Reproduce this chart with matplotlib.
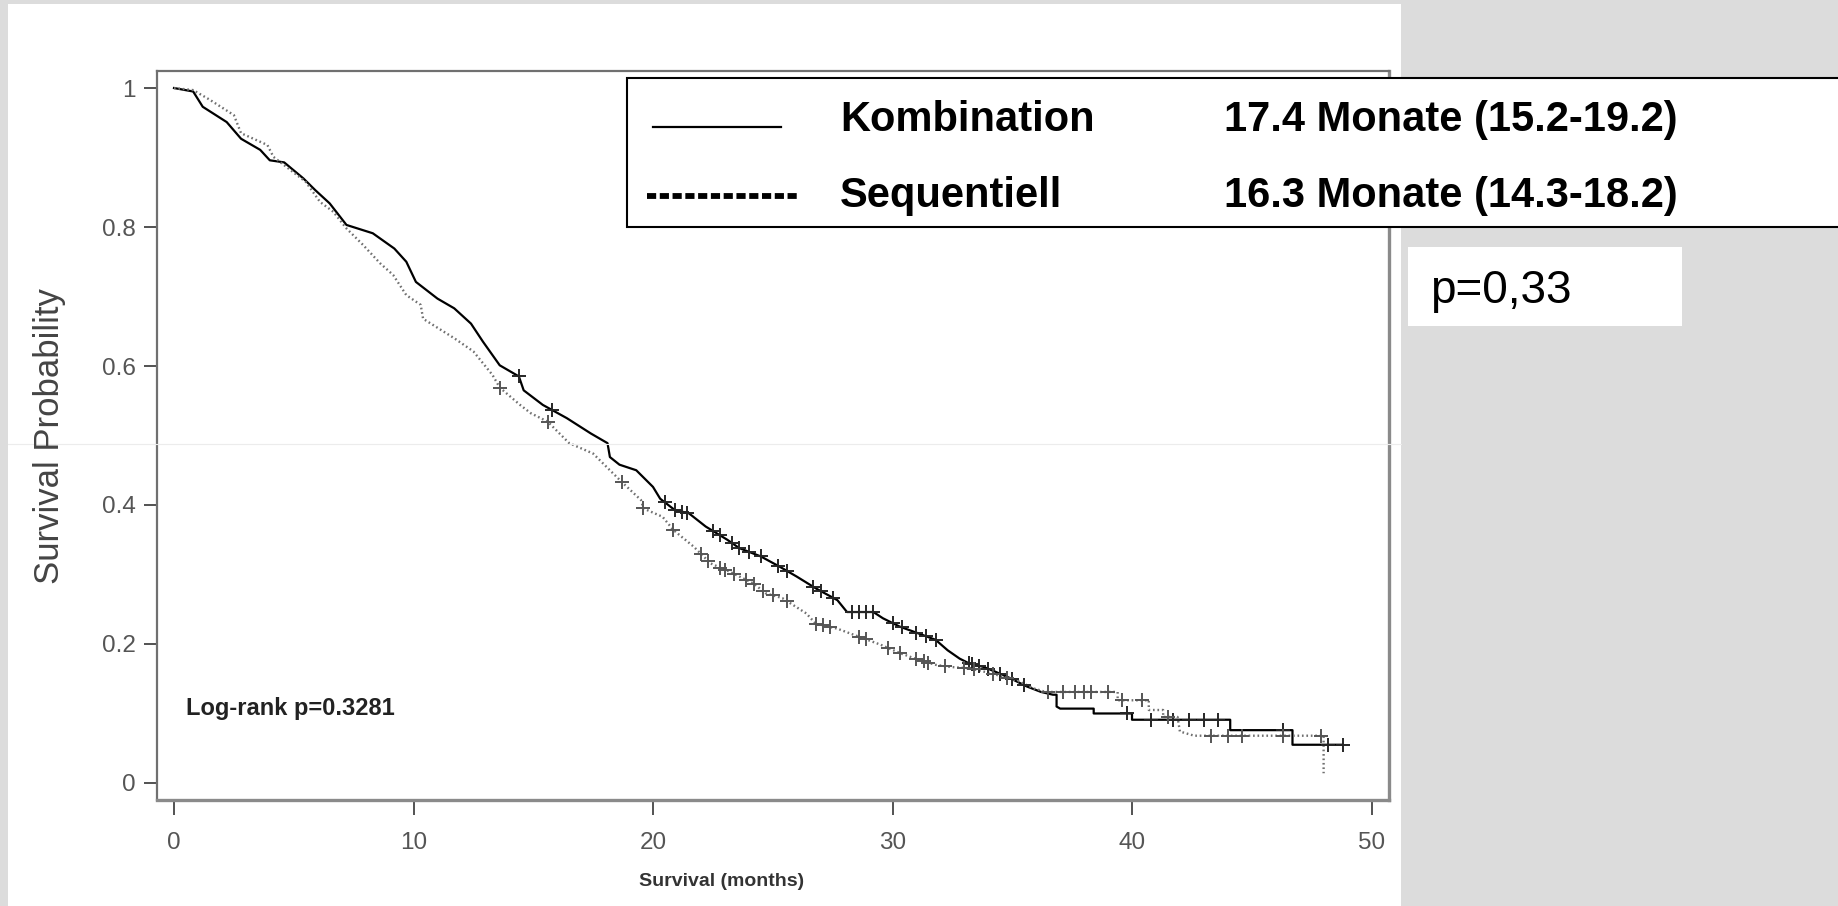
import numpy as np
import matplotlib.pyplot as plt
from matplotlib.patches import Rectangle
from matplotlib.lines import Line2D

plt.rcParams['font.family'] = ['Liberation Sans', 'DejaVu Sans']
plt.rcParams['lines.scale_dashes'] = False

# Kaplan-Meier curves (vertices of the drawn path)
komb_t = [0, 0.8, 1.2, 2.2, 2.8, 3.6, 4.0, 4.6, 5.4, 5.9, 6.5, 7.2, 8.3, 9.2, 9.7,
          10.1, 11.0, 11.7, 12.4, 12.9, 13.6, 14.4, 14.6, 15.4, 16.4, 17.4, 18.1,
          18.2, 18.6, 19.3, 20.0, 20.3, 20.9, 21.5, 22.2, 23.1, 23.6, 24.5, 25.3,
          26.0, 26.8, 27.7, 28.1, 29.2, 29.6, 30.3, 31.1, 31.8, 32.3, 32.8, 33.2,
          33.8, 34.3, 34.9, 35.6, 36.2, 36.7, 36.85, 36.85, 37.0, 38.4, 38.4, 40.0,
          40.0, 44.1, 44.1, 46.7, 46.7, 48.8]
komb_s = [1.0, 0.995, 0.973, 0.951, 0.927, 0.911, 0.896, 0.893, 0.870, 0.853, 0.834,
          0.803, 0.791, 0.769, 0.750, 0.721, 0.697, 0.683, 0.661, 0.635, 0.601, 0.585,
          0.565, 0.544, 0.525, 0.503, 0.489, 0.469, 0.458, 0.450, 0.426, 0.409, 0.393,
          0.388, 0.369, 0.350, 0.338, 0.326, 0.311, 0.297, 0.280, 0.263, 0.246, 0.246,
          0.237, 0.225, 0.215, 0.206, 0.191, 0.179, 0.172, 0.167, 0.160, 0.151, 0.139,
          0.131, 0.127, 0.127, 0.110, 0.107, 0.107, 0.100, 0.100, 0.091, 0.091, 0.076,
          0.076, 0.055, 0.055]
komb_cens = [14.4, 15.8, 20.5, 20.9, 21.2, 21.4, 22.5, 22.8, 23.3, 23.6, 24.0, 24.5,
             25.2, 25.6, 26.7, 27.0, 27.5, 28.3, 28.6, 28.9, 29.2, 30.0, 30.4, 31.0,
             31.4, 31.8, 33.2, 33.3, 33.6, 34.0, 34.5, 35.0, 35.5, 39.8, 40.8, 41.7,
             42.4, 43.0, 43.6, 46.3, 48.2, 48.8]

seq_t = [0, 0.8, 1.5, 2.5, 2.8, 3.9, 4.15, 5.5, 6.1, 6.65, 7.2, 7.9, 8.6, 9.15, 9.7,
         10.3, 10.4, 11.7, 12.5, 13.3, 13.6, 14.45, 14.9, 15.6, 16.5, 17.5, 18.2,
         18.7, 19.5, 19.6, 20.4, 20.85, 21.7, 22.4, 23.2, 24.2, 24.7, 25.4, 26.4,
         26.8, 27.7, 28.4, 29.5, 30.3, 31.1, 31.8, 32.4, 33.2, 34.1, 34.6, 35.3,
         35.9, 36.4, 39.4, 39.4, 40.7, 40.7, 41.3, 41.3, 41.9, 42.0, 42.6, 48.0, 48.0]
seq_s = [1.0, 0.997, 0.983, 0.961, 0.935, 0.918, 0.901, 0.865, 0.836, 0.822, 0.798,
         0.774, 0.748, 0.731, 0.702, 0.688, 0.668, 0.640, 0.621, 0.587, 0.569, 0.544,
         0.532, 0.520, 0.489, 0.474, 0.450, 0.433, 0.407, 0.395, 0.383, 0.364, 0.340,
         0.316, 0.304, 0.287, 0.273, 0.266, 0.244, 0.229, 0.222, 0.213, 0.199, 0.187,
         0.177, 0.170, 0.167, 0.165, 0.158, 0.153, 0.146, 0.136, 0.131, 0.131, 0.119,
         0.119, 0.105, 0.105, 0.095, 0.095, 0.074, 0.068, 0.068, 0.014]
seq_cens = [13.6, 15.6, 18.7, 19.6, 20.85, 22.0, 22.3, 22.8, 23.0, 23.4, 23.9, 24.2,
            24.6, 25.0, 25.6, 26.8, 27.1, 27.4, 28.6, 28.9, 29.8, 30.3, 31.0, 31.3,
            31.5, 32.2, 33.0, 33.4, 34.2, 34.8, 36.5, 37.1, 37.6, 38.0, 38.3, 39.0,
            39.6, 40.4, 41.5, 43.3, 44.0, 44.6, 46.3, 47.9]

groups = ['Kombination', 'Sequentiell']
medians = ['17.4 Monate (15.2-19.2)', '16.3 Monate (14.3-18.2)']
x_ticks = [0, 10, 20, 30, 40, 50]
y_ticks = [0, 0.2, 0.4, 0.6, 0.8, 1]
y_ticklabels = ['0', '0.2', '0.4', '0.6', '0.8', '1']

W, H = 1838, 906


def fx(x):
    return x / W


def fy(y):
    return 1 - y / H


fig = plt.figure(figsize=(W / 100, H / 100), dpi=100, facecolor='#dcdcdc')

# white slide panel
fig.add_artist(Rectangle((fx(8), 0), fx(1401) - fx(8), fy(4), transform=fig.transFigure,
                         facecolor='white', edgecolor='none', zorder=0))
fig.add_artist(Line2D([fx(8), fx(1401)], [fy(444), fy(444)], transform=fig.transFigure,
                      color='#ececec', lw=0.8, zorder=0.5))

ax = fig.add_axes([fx(157), fy(800), fx(1389) - fx(157), fy(71) - fy(800)])
ax.set_facecolor('none')

ax.plot(komb_t, komb_s, color='black', lw=1.6)
ax.plot(seq_t, seq_s, color='#707070', lw=1.7, ls=(0, (1.2, 2.0)))

ax.plot(komb_cens, np.interp(komb_cens, komb_t, komb_s), ls='none', marker='+',
        ms=10, mew=1.4, color='#262626')
ax.plot(seq_cens, np.interp(seq_cens, seq_t, seq_s), ls='none', marker='+',
        ms=10, mew=1.4, color='#555555')

ax.set_xlim(-0.71, 50.73)
ax.set_ylim(-0.0245, 1.0245)
ax.set_xticks(x_ticks)
ax.set_yticks(y_ticks)
ax.set_yticklabels(y_ticklabels)
ax.tick_params(axis='y', length=9.5, width=1.3, color='#444444', pad=6,
               labelsize=17.5, labelcolor='#555555')
ax.tick_params(axis='x', length=11, width=1.3, color='#444444', pad=12,
               labelsize=17.5, labelcolor='#555555')
for side in ['left', 'top']:
    ax.spines[side].set_color('#707070')
    ax.spines[side].set_linewidth(1.6)
for side in ['bottom', 'right']:
    ax.spines[side].set_color('#8a8a8a')
    ax.spines[side].set_linewidth(2.4)

ax.text(fx(186), fy(709), 'Log-rank p=0.3281', transform=fig.transFigure,
        fontsize=17, fontweight='bold', color='#222222', va='center', ha='left')

fig.text(fx(50), fy(436), 'Survival Probability', rotation=90, fontsize=25,
         color='#444444', ha='center', va='center')
fig.text(fx(722), fy(881), 'Survival (months)', fontsize=14, fontweight='bold',
         color='#333333', ha='center', va='center')

# legend box drawn over the plot
fig.add_artist(Rectangle((fx(627), fy(227)), fx(1900) - fx(627), fy(78) - fy(227),
                         transform=fig.transFigure, facecolor='white', edgecolor='black',
                         lw=1.5, zorder=10))
fig.add_artist(Line2D([fx(653), fx(781)], [fy(127), fy(127)], transform=fig.transFigure,
                      color='black', lw=1.6, zorder=11))
fig.add_artist(Line2D([fx(647), fx(800)], [fy(196), fy(196)], transform=fig.transFigure,
                      color='black', lw=4.2, dashes=(6.6, 2.6), dash_capstyle='butt',
                      zorder=11))
for i, (g, m) in enumerate(zip(groups, medians)):
    base = [131, 207][i]
    fig.text(fx(840), fy(base), g, fontsize=30, fontweight='bold', color='black',
             va='baseline', ha='left', zorder=12)
    fig.text(fx(1224), fy(base), m, fontsize=30, fontweight='bold', color='black',
             va='baseline', ha='left', zorder=12)

# p-value box
fig.add_artist(Rectangle((fx(1408), fy(326)), fx(1682) - fx(1408), fy(247) - fy(326),
                         transform=fig.transFigure, facecolor='white', edgecolor='none',
                         zorder=10))
fig.text(fx(1430), fy(303), 'p=0,33', fontsize=33, color='black', va='baseline',
         ha='left', zorder=12)

fig.savefig('out.png', dpi=100, facecolor=fig.get_facecolor())
